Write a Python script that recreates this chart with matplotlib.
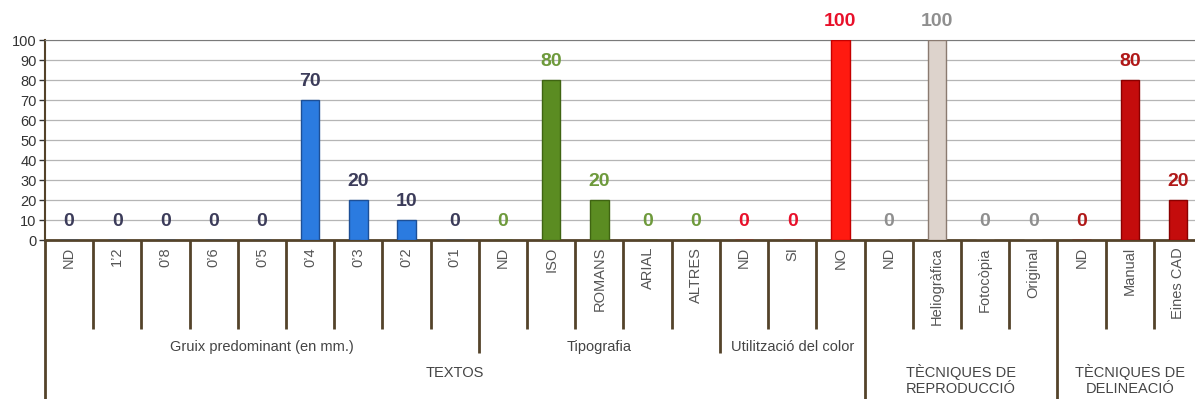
import numpy as np
import matplotlib
matplotlib.use('Agg')
import matplotlib.pyplot as plt

plt.rcParams['font.family'] = ['Liberation Sans', 'DejaVu Sans']

# Data per group
gruix_labels = ['ND', '1’2', '0’8', '0’6', '0’5', '0’4', '0’3', '0’2', '0’1']
gruix_values = [0, 0, 0, 0, 0, 70, 20, 10, 0]
tipo_labels = ['ND', 'ISO', 'ROMANS', 'ARIAL', 'ALTRES']
tipo_values = [0, 80, 20, 0, 0]
color_labels = ['ND', 'SI', 'NO']
color_values = [0, 0, 100]
repro_labels = ['ND', 'Heliogràfica', 'Fotocòpia', 'Original']
repro_values = [0, 100, 0, 0]
delin_labels = ['ND', 'Manual', 'Eines CAD']
delin_values = [0, 80, 20]

# Styles per group: bar face, bar edge, value label colour
groups = [
    (gruix_labels, gruix_values, '#2b7be0', '#1d4f96', '#3c3c5a'),
    (tipo_labels, tipo_values, '#5b8c22', '#3f6412', '#6e9a3c'),
    (color_labels, color_values, '#ff1a10', '#c40000', '#e8102a'),
    (repro_labels, repro_values, '#ddd3cc', '#8a7a70', '#8f8f8f'),
    (delin_labels, delin_values, '#c40c0c', '#8a0000', '#b01818'),
]

brown = '#54432a'

fig = plt.figure(figsize=(11.95, 3.99), dpi=100)
ax = fig.add_axes([45 / 1195, 159 / 399, 1157 / 1195, 200 / 399])

# Bars and value labels
pos = 0
all_labels = []
for labels, values, face, edge, tcol in groups:
    x = np.arange(pos, pos + len(values))
    ax.bar(x, values, width=0.38, color=face, edgecolor=edge, linewidth=1, zorder=3)
    for xi, v in zip(x, values):
        ax.text(xi, v + 9.5, str(v), ha='center', va='center', fontsize=14,
                fontweight='bold', color=tcol, zorder=4, clip_on=False)
    all_labels += labels
    pos += len(values)

n = len(all_labels)
ax.set_xlim(-0.5, n - 0.5)
ax.set_ylim(0, 100)
ax.set_yticks(range(0, 101, 10))
ax.tick_params(axis='y', labelsize=10.5, colors='#333333', length=4, width=1, pad=2)
ax.set_xticks([])

# Grid and frame
ax.grid(axis='y', color='#b5b5b5', linewidth=0.9, zorder=0)
ax.spines['right'].set_visible(False)
ax.spines['top'].set_color('#7a7a7a')
ax.spines['bottom'].set_color(brown)
ax.spines['bottom'].set_linewidth(2)
ax.spines['left'].set_color(brown)
ax.spines['left'].set_linewidth(1.5)

# Category labels (rotated)
trans = ax.get_xaxis_transform()
for i, lab in enumerate(all_labels):
    ax.text(i, -0.035, lab, rotation=90, ha='center', va='top', fontsize=10.5,
            color='#555555', transform=trans, clip_on=False)

# Separator lines under the axis: short, group level, top level
full = [0, 17, 21, 24]
mid = [9, 14]
for k in range(n + 1):
    if k in full:
        y_end = -0.8
    elif k in mid:
        y_end = -0.565
    else:
        y_end = -0.445
    ax.plot([k - 0.5, k - 0.5], [0, y_end], color=brown, linewidth=2,
            transform=trans, clip_on=False, solid_capstyle='butt')

# Group labels
lab_kw = dict(ha='center', va='center', fontsize=10.5, color='#444444', transform=trans)
ax.text(4, -0.535, 'Gruix predominant (en mm.)', **lab_kw)
ax.text(11, -0.535, 'Tipografia', **lab_kw)
ax.text(15, -0.535, 'Utilització del color', **lab_kw)
ax.text(8, -0.665, 'TEXTOS', **lab_kw)
ax.text(18.5, -0.70, 'TÈCNIQUES DE\nREPRODUCCIÓ', linespacing=1.1, **lab_kw)
ax.text(22, -0.70, 'TÈCNIQUES DE\nDELINEACIÓ', linespacing=1.1, **lab_kw)

fig.savefig('out.png', dpi=100)
